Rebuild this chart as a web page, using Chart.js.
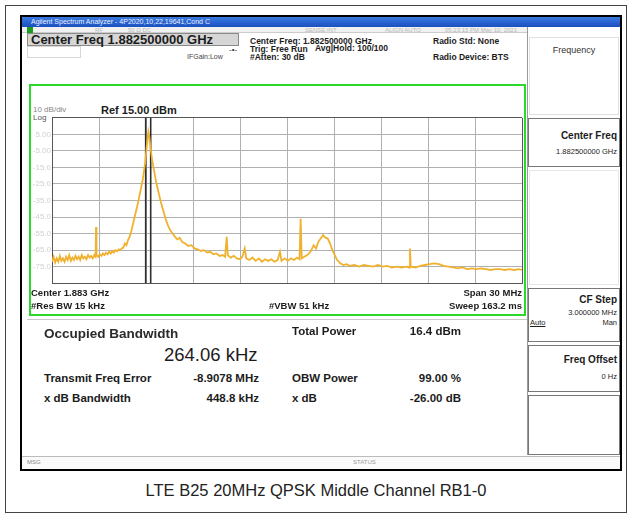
<!DOCTYPE html>
<html>
<head>
<meta charset="utf-8">
<script src="https://cdn.jsdelivr.net/npm/chart.js@4.4.0/dist/chart.umd.min.js"></script>
<style>
  body { margin: 0; width: 632px; height: 520px; background: #fff; position: relative; overflow: hidden;
         font-family: "Liberation Sans", Arial, sans-serif; }
  .t { position: absolute; white-space: nowrap; color: #1c1c1c; line-height: 1; }
  .b { font-weight: bold; }
  .r { text-align: right; }
  .box { position: absolute; box-sizing: border-box; }
  .faint { color: #b8b8b8; }
</style>
</head>
<body>

<!-- outer page frame + screenshot frame -->
<div class="box" style="left:5px;top:5px;width:622px;height:508px;border:1px solid #444"></div>
<div class="box" style="left:20px;top:15px;width:602px;height:456px;border:2px solid #000"></div>

<!-- title bar and status row -->
<div class="box" style="left:22px;top:17px;width:598px;height:10px;background:linear-gradient(#3b7be0,#1a4fc0)"></div>
<div class="t" style="left:31px;top:18px;font-size:7px;color:#e8f0ff">Agilent Spectrum Analyzer - 4P2020,10,22,19641,Cond C</div>
<div class="box" style="left:22px;top:27px;width:505px;height:6px;background:#f1f1f1;border-bottom:1px solid #ccc"></div>
<div class="box" style="left:27px;top:27px;width:6px;height:6px;background:#1e9e1e"></div>
<div class="t faint" style="left:95px;top:27px;font-size:6px">RF</div>
<div class="t faint" style="left:128px;top:27px;font-size:6px">50 Ω  DC</div>
<div class="t faint" style="left:305px;top:27px;font-size:6px">SENSE:INT</div>
<div class="t faint" style="left:385px;top:27px;font-size:6px">ALIGN AUTO</div>
<div class="t faint" style="left:445px;top:27px;font-size:6px">05:23:15 PM May 10, 2021</div>

<!-- header -->
<div class="box" style="left:27px;top:33px;width:212px;height:13px;background:#d6d6d6;border:1px solid #8a8a8a"></div>
<div class="t b" style="left:31px;top:33px;font-size:13px">Center Freq 1.882500000 GHz</div>
<div class="box" style="left:27px;top:46px;width:54px;height:12px;border:1px solid #d8d8d8"></div>
<div class="t" style="left:187px;top:53px;font-size:7px;color:#444">IFGain:Low</div>
<div class="t" style="left:229px;top:46px;font-size:8px;color:#333">-•-</div>
<div class="t b" style="left:250px;top:37px;font-size:8.5px">Center Freq: 1.882500000 GHz</div>
<div class="t b" style="left:250px;top:45px;font-size:8.5px">Trig: Free Run</div>
<div class="t b" style="left:250px;top:52.5px;font-size:8.5px">#Atten: 30 dB</div>
<div class="t b" style="left:315px;top:44px;font-size:8.5px">Avg|Hold: 100/100</div>
<div class="t b" style="left:433px;top:37px;font-size:8.5px">Radio Std: None</div>
<div class="t b" style="left:433px;top:52.5px;font-size:8.5px">Radio Device: BTS</div>

<!-- right soft-key panel -->
<div class="box" style="left:527px;top:27px;width:1px;height:428px;background:#999"></div>
<div class="box" style="left:529px;top:37px;width:90px;height:78px;border:1px solid #e0e0e0"></div>
<div class="t" style="left:529px;top:46px;width:90px;text-align:center;font-size:9px;color:#333">Frequency</div>
<div class="box" style="left:528px;top:118px;width:92px;height:49px;border:1px solid #777"></div>
<div class="t b r" style="left:526px;top:131px;width:91px;font-size:10px">Center Freq</div>
<div class="t r" style="left:526px;top:148px;width:91px;font-size:7.5px">1.882500000 GHz</div>
<div class="box" style="left:529px;top:170px;width:90px;height:115px;border:1px solid #e6e6e6"></div>
<div class="box" style="left:528px;top:288px;width:92px;height:54px;border:1px solid #777"></div>
<div class="t b r" style="left:526px;top:295px;width:91px;font-size:10px">CF Step</div>
<div class="t r" style="left:526px;top:309px;width:91px;font-size:7.5px">3.000000 MHz</div>
<div class="t" style="left:530px;top:319px;font-size:7.5px;text-decoration:underline">Auto</div>
<div class="t r" style="left:526px;top:319px;width:91px;font-size:7.5px">Man</div>
<div class="box" style="left:528px;top:345px;width:92px;height:47px;border:1px solid #777"></div>
<div class="t b r" style="left:526px;top:355px;width:91px;font-size:10px">Freq Offset</div>
<div class="t r" style="left:526px;top:373px;width:91px;font-size:7.5px">0 Hz</div>
<div class="box" style="left:528px;top:395px;width:92px;height:60px;border:1px solid #777"></div>

<!-- green trace window -->
<div class="box" style="left:29px;top:84px;width:497px;height:232px;border:2px solid #2bd82b"></div>
<div class="t" style="left:33px;top:106px;font-size:8px;color:#888">10 dB/div</div>
<div class="t b" style="left:101px;top:105px;font-size:11px">Ref 15.00 dBm</div>
<div class="t" style="left:33px;top:114px;font-size:8px;color:#555">Log</div>
<canvas id="c" width="493" height="177" style="position:absolute;left:31px;top:112px"></canvas>
<div class="t b" style="left:31px;top:288px;font-size:9.5px">Center  1.883 GHz</div>
<div class="t b" style="left:31px;top:301px;font-size:9.5px">#Res BW  15 kHz</div>
<div class="t b" style="left:269px;top:301px;font-size:9.5px">#VBW  51 kHz</div>
<div class="t b r" style="left:400px;top:288px;width:122px;font-size:9.5px">Span 30 MHz</div>
<div class="t b r" style="left:400px;top:301px;width:122px;font-size:9.5px">Sweep  163.2 ms</div>

<!-- measurement results -->
<div class="box" style="left:27px;top:319px;width:500px;height:1px;background:#c8c8c8"></div>
<div class="t b" style="left:44px;top:327px;font-size:13.5px;color:#2a2a2a">Occupied Bandwidth</div>
<div class="t" style="left:164px;top:346px;font-size:18.5px">264.06 kHz</div>
<div class="t b" style="left:292px;top:326px;font-size:11.5px">Total Power</div>
<div class="t b r" style="left:380px;top:326px;width:81px;font-size:11.5px">16.4 dBm</div>
<div class="t b" style="left:44px;top:373px;font-size:11.5px">Transmit Freq Error</div>
<div class="t b r" style="left:170px;top:373px;width:89px;font-size:11.5px">-8.9078 MHz</div>
<div class="t b" style="left:292px;top:373px;font-size:11.5px">OBW Power</div>
<div class="t b r" style="left:380px;top:373px;width:81px;font-size:11.5px">99.00 %</div>
<div class="t b" style="left:44px;top:393px;font-size:11.5px">x dB Bandwidth</div>
<div class="t b r" style="left:170px;top:393px;width:89px;font-size:11.5px">448.8 kHz</div>
<div class="t b" style="left:292px;top:393px;font-size:11.5px">x dB</div>
<div class="t b r" style="left:380px;top:393px;width:81px;font-size:11.5px">-26.00 dB</div>

<!-- status bar -->
<div class="box" style="left:22px;top:456px;width:598px;height:13px;border-top:1px solid #bbb;background:#fafafa"></div>
<div class="t faint" style="left:27px;top:459px;font-size:6px;color:#888">MSG</div>
<div class="t faint" style="left:353px;top:459px;font-size:6px;color:#999">STATUS</div>

<!-- caption -->
<div class="t" style="left:0;top:482px;width:632px;text-align:center;font-size:16.5px;color:#222">LTE B25 20MHz QPSK Middle Channel RB1-0</div>

<script>
// sweep: 1.868 GHz .. 1.898 GHz, x values are MHz from the start of the span
const spanMHz = 30;
const refLevel = 15;
const bottomLevel = -85;

const freqOffsetMHz = [
  0.00, 0.10, 0.20, 0.30, 0.40, 0.50, 0.60, 0.70, 0.80, 0.90,
  1.00, 1.10, 1.20, 1.30, 1.40, 1.50, 1.60, 1.70, 1.80, 1.90,
  2.00, 2.10, 2.20, 2.30, 2.40, 2.50, 2.60, 2.70, 2.78, 2.81,
  2.84, 2.95, 3.05, 3.15, 3.25, 3.35, 3.45, 3.55, 3.65, 3.75,
  3.85, 3.95, 4.05, 4.15, 4.25, 4.35, 4.45, 4.55, 4.65, 4.75,
  4.85, 4.95, 5.05, 5.20, 5.35, 5.50, 5.65, 5.80, 5.95, 6.05,
  6.15, 6.22, 6.30, 6.40, 6.50, 6.65, 6.80, 6.95, 7.10, 7.25,
  7.40, 7.55, 7.70, 7.85, 8.00, 8.15, 8.30, 8.50, 8.70, 8.90,
  9.10, 9.30, 9.50, 9.70, 9.90, 10.10, 10.30, 10.50, 10.70, 10.90,
  11.05, 11.15, 11.22, 11.40, 11.60, 11.80, 12.00, 12.15, 12.30, 12.40,
  12.60, 12.80, 13.00, 13.20, 13.40, 13.60, 13.80, 14.00, 14.20, 14.40,
  14.55, 14.65, 14.85, 15.05, 15.25, 15.45, 15.65, 15.80, 15.87, 15.94,
  16.10, 16.30, 16.50, 16.70, 16.85, 17.00, 17.15, 17.30, 17.45, 17.60,
  17.75, 17.90, 18.05, 18.20, 18.40, 18.60, 18.80, 19.00, 19.30, 19.60,
  19.90, 20.20, 20.50, 20.80, 21.10, 21.40, 21.70, 22.00, 22.30, 22.60,
  22.80, 22.85, 22.90, 23.20, 23.50, 23.80, 24.10, 24.40, 24.70, 25.00,
  25.30, 25.60, 25.90, 26.20, 26.50, 26.80, 27.10, 27.40, 27.70, 28.00,
  28.30, 28.60, 28.90, 29.20, 29.50, 29.80, 30.00
];

const traceDbm = [
  -72, -69, -72.5, -70, -72, -68.5, -71.5, -70, -72, -69,
  -71, -68, -71.5, -69.5, -71, -68.5, -70.5, -69, -71, -68,
  -70, -69, -70.5, -68, -69.5, -68.5, -70, -68, -69, -51,
  -68, -69, -67.5, -68.5, -67, -68, -66.5, -67.5, -66, -67,
  -65.5, -66.5, -65, -65.8, -64.5, -65, -64, -63.5, -61, -62,
  -59, -57, -54, -48, -42, -36, -29, -22, -12, -2,
  6.5, 3, -4, -11, -16, -24, -30, -36, -41, -46,
  -50, -53, -55, -57, -58.5, -57.5, -60, -61, -62.5, -62,
  -64, -64.5, -65.5, -65, -66.5, -66, -67.5, -67, -68.5, -68,
  -69, -57, -68, -69.5, -68.5, -70, -70.5, -69, -64, -70,
  -71, -69.5, -71.5, -70, -72, -70.5, -71.5, -70.5, -72, -71,
  -66, -71.5, -70, -71.5, -70, -71, -69.5, -70.5, -46, -70,
  -69, -68, -66, -62, -64, -60, -58, -56, -57.5, -58,
  -61, -65, -68, -71, -73, -74, -73.5, -74.5, -74, -75,
  -74, -74.5, -75, -74, -75, -74.5, -75.5, -75, -75.5, -75,
  -75.5, -64, -75, -75.5, -74.5, -74, -73.5, -73, -73.5, -74.5,
  -75, -75.5, -76, -75.5, -76.5, -76, -76.5, -76, -76.5, -77,
  -76.5, -76.5, -77, -76.5, -77, -76.5, -77
];

// OBW marker lines (MHz from span start)
const obwMarkersMHz = [5.98, 6.30];

const yTickLabels = ['5.00', '-5.00', '-15.0', '-25.0', '-35.0', '-45.0', '-55.0', '-65.0', '-75.0'];

const tracePoints = freqOffsetMHz.map((f, i) => ({ x: f, y: traceDbm[i] }));

const markerSets = obwMarkersMHz.map(f => ({
  data: [{ x: f, y: refLevel }, { x: f, y: bottomLevel }],
  borderColor: '#2e2e2e',
  borderWidth: 1.6,
  pointRadius: 0,
}));

new Chart(document.getElementById('c'), {
  type: 'line',
  data: {
    datasets: [
      {
        data: tracePoints,
        borderColor: '#f0b12e',
        borderWidth: 1.8,
        pointRadius: 0,
        tension: 0,
      },
      ...markerSets,
    ],
  },
  options: {
    responsive: false,
    animation: false,
    devicePixelRatio: 1,
    layout: { padding: { top: 5, bottom: 5, left: 0, right: 2 } },
    plugins: { legend: { display: false }, tooltip: { enabled: false } },
    scales: {
      x: {
        type: 'linear',
        min: 0,
        max: spanMHz,
        ticks: { stepSize: 3, display: false },
        grid: {
          drawTicks: false,
          color: ctx => (ctx.tick.value === 0 || ctx.tick.value === spanMHz) ? '#555' : '#b0b0b0',
        },
        border: { color: '#555' },
        afterFit: s => { s.height = 0; },
      },
      y: {
        min: bottomLevel,
        max: refLevel,
        ticks: {
          stepSize: 10,
          padding: 1,
          color: '#d0d0d0',
          font: { family: 'Liberation Sans', size: 8 },
          callback: v => {
            const i = (refLevel - v) / 10 - 1;
            return (i >= 0 && i < yTickLabels.length) ? yTickLabels[i] : '';
          },
        },
        grid: {
          drawTicks: false,
          color: ctx => (ctx.tick.value === refLevel || ctx.tick.value === bottomLevel) ? '#555' : '#b0b0b0',
        },
        border: { color: '#555' },
        afterFit: s => { s.width = 21; },
      },
    },
  },
});
</script>
</body>
</html>
